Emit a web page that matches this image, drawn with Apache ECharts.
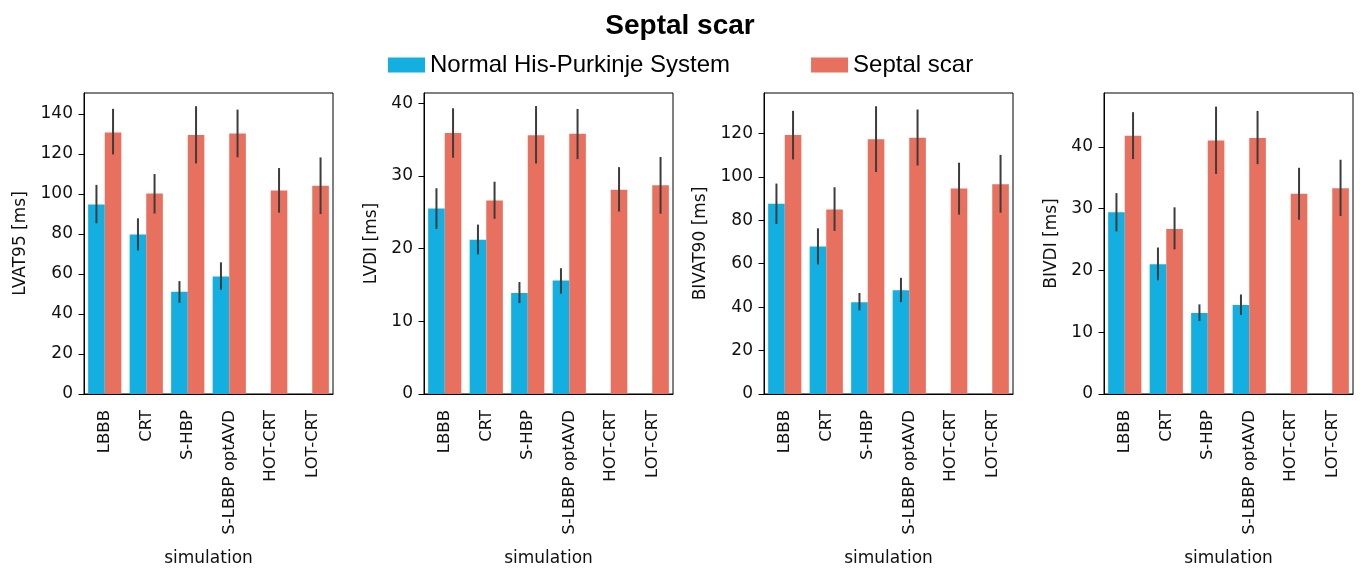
<!DOCTYPE html>
<html>
<head>
<meta charset="utf-8">
<script src="https://cdn.jsdelivr.net/npm/echarts@6/dist/echarts.min.js"></script>
<style>html,body{margin:0;padding:0;background:#fff}#c{width:1360px;height:572px}</style>
</head>
<body>
<div id="c"></div>
<script>
const categories = ['LBBB', 'CRT', 'S-HBP', 'S-LBBP optAVD', 'HOT-CRT', 'LOT-CRT'];
const seriesNames = ['Normal His-Purkinje System', 'Septal scar'];

// LVAT95 [ms]
const lvat95Normal     = [94.7, 79.7, 51.1, 58.7, null, null];
const lvat95NormalLow  = [85.3, 71.7, 45.6, 52.1, null, null];
const lvat95NormalHigh = [104.5, 87.8, 56.4, 65.8, null, null];
const lvat95Scar       = [130.7, 100.2, 129.4, 130.2, 101.7, 104.0];
const lvat95ScarLow    = [119.7, 90.2, 115.2, 118.3, 90.6, 89.9];
const lvat95ScarHigh   = [142.5, 109.9, 143.8, 142.1, 112.9, 118.2];

// LVDI [ms]
const lvdiNormal     = [25.5, 21.2, 13.9, 15.6, null, null];
const lvdiNormalLow  = [22.7, 19.2, 12.5, 13.8, null, null];
const lvdiNormalHigh = [28.3, 23.3, 15.4, 17.3, null, null];
const lvdiScar       = [35.9, 26.6, 35.6, 35.8, 28.1, 28.7];
const lvdiScarLow    = [32.5, 24.1, 31.7, 32.3, 25.1, 24.8];
const lvdiScarHigh   = [39.3, 29.2, 39.6, 39.2, 31.2, 32.6];

// BIVAT90 [ms]
const bivat90Normal     = [87.6, 67.9, 42.3, 47.8, null, null];
const bivat90NormalLow  = [78.3, 59.7, 38.5, 42.3, null, null];
const bivat90NormalHigh = [96.9, 76.3, 46.5, 53.5, null, null];
const bivat90Scar       = [119.3, 85.0, 117.3, 118.0, 94.6, 96.6];
const bivat90ScarLow    = [108.0, 75.1, 102.2, 105.2, 82.6, 83.5];
const bivat90ScarHigh   = [130.4, 95.2, 132.5, 131.0, 106.5, 110.1];

// BIVDI [ms]
const bivdiNormal     = [29.4, 21.0, 13.1, 14.4, null, null];
const bivdiNormalLow  = [26.3, 18.4, 11.8, 12.8, null, null];
const bivdiNormalHigh = [32.5, 23.7, 14.5, 16.1, null, null];
const bivdiScar       = [41.8, 26.7, 41.0, 41.4, 32.4, 33.3];
const bivdiScarLow    = [38.0, 23.4, 35.6, 37.2, 28.2, 28.8];
const bivdiScarHigh   = [45.6, 30.2, 46.5, 45.8, 36.6, 37.9];

// y tick labels per panel
const lvat95Ticks  = [0, 20, 40, 60, 80, 100, 120, 140];
const lvdiTicks    = [0, 10, 20, 30, 40];
const bivat90Ticks = [0, 20, 40, 60, 80, 100, 120];
const bivdiTicks   = [0, 10, 20, 30, 40];

const yLabels = ['LVAT95 [ms]', 'LVDI [ms]', 'BIVAT90 [ms]', 'BIVDI [ms]'];
const xLabel = 'simulation';

const panels = [
  { yName: yLabels[0], max: 150.4, ticks: lvat95Ticks, nameGap: 55, left: 84,
    normal: lvat95Normal, nLow: lvat95NormalLow, nHigh: lvat95NormalHigh,
    scar: lvat95Scar, sLow: lvat95ScarLow, sHigh: lvat95ScarHigh },
  { yName: yLabels[1], max: 41.4, ticks: lvdiTicks, nameGap: 44, left: 424,
    normal: lvdiNormal, nLow: lvdiNormalLow, nHigh: lvdiNormalHigh,
    scar: lvdiScar, sLow: lvdiScarLow, sHigh: lvdiScarHigh },
  { yName: yLabels[2], max: 138.6, ticks: bivat90Ticks, nameGap: 55, left: 764,
    normal: bivat90Normal, nLow: bivat90NormalLow, nHigh: bivat90NormalHigh,
    scar: bivat90Scar, sLow: bivat90ScarLow, sHigh: bivat90ScarHigh },
  { yName: yLabels[3], max: 48.7, ticks: bivdiTicks, nameGap: 44, left: 1104,
    normal: bivdiNormal, nLow: bivdiNormalLow, nHigh: bivdiNormalHigh,
    scar: bivdiScar, sLow: bivdiScarLow, sHigh: bivdiScarHigh }
];

const BLUE = '#13afe0';
const RED = '#e8705f';
const ERR = '#3c3c3c';
const FONT = 'DejaVu Sans';

function errData(low, high) {
  const out = [];
  low.forEach((l, i) => { if (l != null && high[i] != null) out.push([i, l, high[i]]); });
  return out;
}
function errRender(offset) {
  return function (params, api) {
    const i = api.value(0);
    const bw = api.size([1, 0])[0];
    const x = api.coord([i, 0])[0] + offset * bw;
    const y1 = api.coord([i, api.value(1)])[1];
    const y2 = api.coord([i, api.value(2)])[1];
    return { type: 'line', shape: { x1: x, y1: y1, x2: x, y2: y2 },
      style: { stroke: ERR, lineWidth: 2 } };
  };
}

const grids = [], xAxes = [], yAxes = [], series = [];
panels.forEach((p, k) => {
  grids.push({ left: p.left, width: 249, top: 93, height: 303, show: true,
    borderColor: '#000', borderWidth: 1, backgroundColor: 'transparent', containLabel: false });
  xAxes.push({ type: 'category', gridIndex: k, data: categories,
    name: xLabel, nameLocation: 'middle', nameGap: 156,
    nameTextStyle: { fontFamily: FONT, fontSize: 17, color: '#111' },
    axisLine: { lineStyle: { color: '#000', width: 1 } },
    axisTick: { alignWithLabel: true, length: 5.5, lineStyle: { color: '#000' } },
    axisLabel: { rotate: 90, margin: 16, fontFamily: FONT, fontSize: 16.5, color: '#111', interval: 0 } });
  yAxes.push({ type: 'value', gridIndex: k, min: 0, max: p.max,
    name: p.yName, nameLocation: 'middle', nameGap: p.nameGap, nameRotate: 90,
    nameTextStyle: { fontFamily: FONT, fontSize: 17, color: '#111' },
    splitLine: { show: false },
    axisLine: { show: true, lineStyle: { color: '#000', width: 1 } },
    axisTick: { show: true, length: 5.5, customValues: p.ticks, lineStyle: { color: '#000' } },
    axisLabel: { margin: 11, fontFamily: FONT, fontSize: 17, color: '#111', customValues: p.ticks } });
  series.push({ name: seriesNames[0], type: 'bar', xAxisIndex: k, yAxisIndex: k,
    data: p.normal, barGap: '0%', barCategoryGap: '20%', itemStyle: { color: BLUE }, z: 2 });
  series.push({ name: seriesNames[1], type: 'bar', xAxisIndex: k, yAxisIndex: k,
    data: p.scar, barGap: '0%', barCategoryGap: '20%', itemStyle: { color: RED }, z: 2 });
  series.push({ name: seriesNames[0], type: 'custom', xAxisIndex: k, yAxisIndex: k,
    data: errData(p.nLow, p.nHigh), renderItem: errRender(-0.2), z: 5, encode: { x: 0, y: [1, 2] } });
  series.push({ name: seriesNames[1], type: 'custom', xAxisIndex: k, yAxisIndex: k,
    data: errData(p.sLow, p.sHigh), renderItem: errRender(0.2), z: 5, encode: { x: 0, y: [1, 2] } });
});

const chart = echarts.init(document.getElementById('c'), null, { renderer: 'canvas' });
chart.setOption({
  animation: false,
  backgroundColor: '#fff',
  title: { text: 'Septal scar', left: 'center', top: 7,
    textStyle: { fontFamily: 'Liberation Sans', fontWeight: 'bold', fontSize: 28, color: '#000' } },
  legend: { left: 388, top: 53, padding: 0, itemWidth: 37, itemHeight: 15, itemGap: 81, icon: 'rect',
    data: [{ name: seriesNames[0], itemStyle: { color: BLUE } }, { name: seriesNames[1], itemStyle: { color: RED } }],
    textStyle: { fontFamily: 'Liberation Sans', fontSize: 24, color: '#000' } },
  grid: grids, xAxis: xAxes, yAxis: yAxes, series: series
});
</script>
</body>
</html>
